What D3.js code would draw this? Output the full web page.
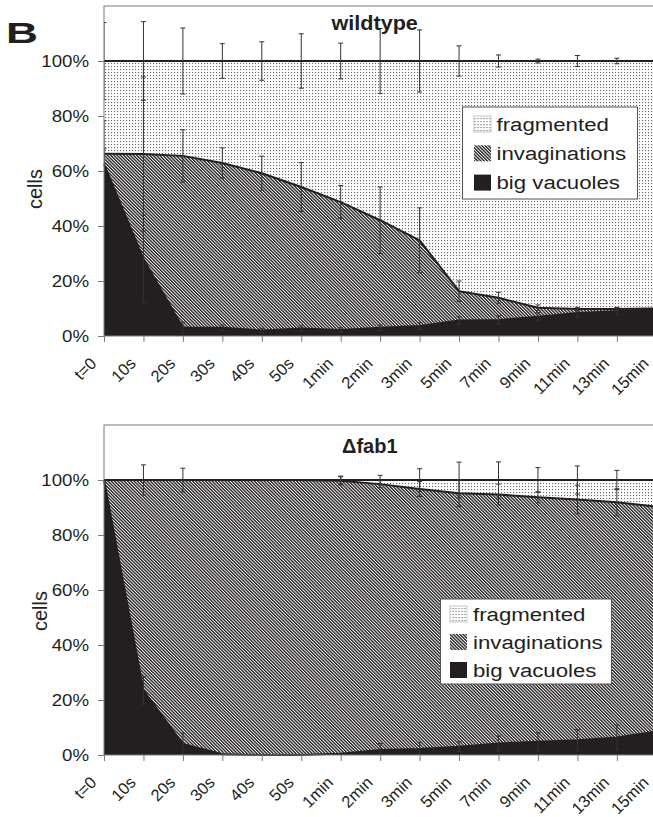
<!DOCTYPE html>
<meta charset="utf-8">
<style>
body { margin: 0; background: #fff; }
svg { display: block; font-family: "Liberation Sans", Arial, sans-serif; }
.frame { fill: none; stroke: #7a7a7a; stroke-width: 1; }
.axis .domain { display: none; }
.axis line { stroke: #7a7a7a; }
.axis text { font-size: 17px; fill: #231f20; font-family: "Liberation Sans", Arial, sans-serif; }
.xaxis text { font-size: 16.5px; }
.edge { fill: none; stroke: #231f20; stroke-width: 2; stroke-linejoin: round; }
.errorbar line { stroke: #333; stroke-width: 1; }
.legend-box { fill: #fff; stroke: #555; stroke-width: 1; }
.legend text { font-size: 19px; fill: #231f20; }
</style>
<body>
<svg width="653" height="817"></svg>
<script src="https://d3js.org/d3.v7.min.js"></script>
<script>

// time points on the category axis
var categories = ["t=0", "10s", "20s", "30s", "40s", "50s", "1min", "2min", "3min", "5min", "7min", "9min", "11min", "13min", "15min"];
var yTicks = [0, 20, 40, 60, 80, 100];
var seriesNames = ["fragmented", "invaginations", "big vacuoles"];

// wildtype, % of cells
var wtBigVacuoles   = [62.5, 28, 3, 3, 2, 2.7, 2.2, 3, 3.6, 5.6, 5.8, 7, 8.4, 9, 9.8];
var wtInvaginations = [3.8, 38.2, 62.5, 59.9, 57.2, 51.5, 46.5, 39.1, 31.2, 10.7, 8.1, 3.3, 1.4, 0.8, 0.2];
var wtFragmented    = [33.7, 33.8, 34.5, 37.1, 40.8, 45.8, 51.3, 57.9, 65.2, 83.7, 86.1, 89.7, 90.2, 90.2, 90];
var wtBigVacuolesErr   = [5.6, 16, 2, 1, 0.8, 1, 0.8, 1, 1.2, 1.4, 1.5, 1.5, 1.5, 1.2, 1];
var wtInvaginationsErr = [12, 28, 9.5, 5.5, 6.2, 8.9, 6, 12.1, 11.8, 3.7, 2, 1, 0.6, 0.6, 0.5];
var wtFragmentedErr    = [14, 14.3, 12, 6.3, 7, 9.9, 6.5, 11.8, 11.3, 5.5, 2.2, 0.7, 2, 1, 0.8];

// delta fab1, % of cells
var fabBigVacuoles   = [100, 23.5, 4, 0.3, 0, 0, 0.5, 1.8, 2.2, 3, 4.2, 4.8, 5.4, 6.4, 8.5];
var fabInvaginations = [0, 76.5, 96, 99.7, 100, 100, 99.2, 96.7, 94.5, 92.2, 90.5, 88.9, 87.5, 85.5, 81.8];
var fabFragmented    = [0, 0, 0, 0, 0, 0, 0.3, 1.5, 3.3, 4.8, 5.3, 6.3, 7.1, 8.1, 9.7];
var fabBigVacuolesErr   = [0, 5, 3.9, 0, 0, 0, 0, 2.4, 2.3, 1.8, 2.7, 3.3, 3.9, 4.5, 5];
var fabInvaginationsErr = [0, 0, 0, 0, 0, 0, 1.5, 1.3, 2.7, 4.9, 3.8, 2, 5.2, 4.9, 4];
var fabFragmentedErr    = [0, 5.5, 4.3, 0, 0, 0, 1.4, 1.7, 4.1, 6.5, 6.6, 4.5, 5.1, 3.5, 3];

var svg = d3.select("svg");
var ink = "#231f20";

var defs = svg.append("defs");
var dots = defs.append("pattern")
    .attr("id", "dots")
    .attr("patternUnits", "userSpaceOnUse")
    .attr("width", 3).attr("height", 3);
dots.append("rect").attr("width", 3).attr("height", 3).attr("fill", "#fff");
dots.append("rect").attr("width", 1.1).attr("height", 1.1).attr("fill", "#666");

var hatch = defs.append("pattern")
    .attr("id", "hatch")
    .attr("patternUnits", "userSpaceOnUse")
    .attr("width", 2.3).attr("height", 4)
    .attr("patternTransform", "rotate(-45)");
hatch.append("rect").attr("width", 2.3).attr("height", 4).attr("fill", "#fff");
hatch.append("rect").attr("width", 1.35).attr("height", 4).attr("fill", ink);

var keys = ["bv", "inv", "frag"];
var fills = { bv: ink, inv: "url(#hatch)", frag: "url(#dots)" };
var legendKeys = ["frag", "inv", "bv"];

var x = d3.scalePoint()
    .domain(categories)
    .range([104, 656.3]);

// big "B" panel letter
svg.append("text")
    .attr("transform", "translate(6,43) scale(1.5,1)")
    .attr("font-size", 29.5)
    .attr("font-weight", "bold")
    .attr("fill", ink)
    .text("B");

function drawPanel(p) {
  var y = d3.scaleLinear().domain([0, 120]).range([p.bottom, p.top]);

  var rows = categories.map(function(c, i) {
    return { cat: c, bv: p.bv[i], inv: p.inv[i], frag: p.frag[i] };
  });
  var errs = { bv: p.bvErr, inv: p.invErr, frag: p.fragErr };
  var layers = d3.stack().keys(keys)(rows);

  var g = svg.append("g");

  var clipId = "clip-" + p.id;
  defs.append("clipPath").attr("id", clipId)
    .append("rect")
      .attr("x", x.range()[0])
      .attr("y", p.top)
      .attr("width", x.range()[1] - x.range()[0])
      .attr("height", p.bottom - p.top);

  var area = d3.area()
      .x(function(d) { return x(d.data.cat); })
      .y0(function(d) { return y(d[0]); })
      .y1(function(d) { return y(d[1]); });

  var line = d3.line()
      .x(function(d) { return x(d.data.cat); })
      .y(function(d) { return y(d[1]); });

  g.selectAll(".layer")
    .data(layers)
    .enter().append("path")
      .attr("class", "layer")
      .attr("fill", function(d) { return fills[d.key]; })
      .attr("d", area);

  g.selectAll(".edge")
    .data(layers)
    .enter().append("path")
      .attr("class", "edge")
      .attr("d", line);

  // error bars, centred on each stacked top
  var bars = g.append("g")
      .attr("class", "errorbar")
      .attr("clip-path", "url(#" + clipId + ")");
  layers.forEach(function(layer) {
    layer.forEach(function(d, i) {
      var e = errs[layer.key][i];
      if (!(e > 0)) return;
      var cx = x(d.data.cat), hi = y(d[1] + e), lo = y(d[1] - e);
      bars.append("line").attr("x1", cx).attr("x2", cx).attr("y1", hi).attr("y2", lo);
      bars.append("line").attr("x1", cx - 2.5).attr("x2", cx + 2.5).attr("y1", hi).attr("y2", hi);
      bars.append("line").attr("x1", cx - 2.5).attr("x2", cx + 2.5).attr("y1", lo).attr("y2", lo);
    });
  });

  g.append("rect")
      .attr("class", "frame")
      .attr("x", x.range()[0])
      .attr("y", p.top)
      .attr("width", x.range()[1] - x.range()[0])
      .attr("height", p.bottom - p.top);

  g.append("g")
      .attr("class", "axis")
      .attr("transform", "translate(" + x.range()[0] + ",0)")
      .call(d3.axisLeft(y).tickValues(yTicks).tickSize(6).tickPadding(9)
        .tickFormat(function(d) { return d + "%"; }))
    .selectAll("text")
      .attr("x", -13.6)
      .attr("transform", "scale(1.1,1)");

  g.append("g")
      .attr("class", "axis xaxis")
      .attr("transform", "translate(0," + p.bottom + ")")
      .call(d3.axisBottom(x).tickSize(6))
    .selectAll("text")
      .attr("y", null)
      .attr("dy", null)
      .attr("text-anchor", "end")
      .attr("transform", "translate(-7,28.5) rotate(-45)");

  g.append("text")
      .attr("transform", "translate(" + p.cellsX + "," + p.cellsY + ") rotate(-90)")
      .attr("text-anchor", "middle")
      .attr("font-size", 20)
      .attr("fill", ink)
      .text("cells");

  g.append("text")
      .attr("transform", "translate(" + p.titleX + "," + p.titleY + ") scale(" + p.titleScale + ",1)")
      .attr("font-size", 20)
      .attr("font-weight", "bold")
      .attr("fill", ink)
      .text(p.title);

  var L = p.legend;
  var legend = g.append("g")
      .attr("class", "legend")
      .attr("transform", "translate(" + L.x + "," + L.y + ")");
  legend.append("rect")
      .attr("class", "legend-box")
      .attr("width", L.w)
      .attr("height", L.h);
  var item = legend.selectAll(".item")
      .data(legendKeys)
    .enter().append("g")
      .attr("class", "item")
      .attr("transform", function(d, i) { return "translate(0," + (L.row0 + i * L.rowH) + ")"; });
  item.append("rect")
      .attr("x", L.sw)
      .attr("y", -8)
      .attr("width", 17)
      .attr("height", 16)
      .attr("fill", function(d) { return fills[d]; })
      .attr("stroke", function(d) { return d == "frag" ? "#bbb" : "none"; })
      .attr("stroke-width", 0.8);
  item.append("text")
      .attr("transform", "translate(" + L.tx + ",6.5) scale(1.17,1)")
      .text(function(d, i) { return seriesNames[i]; });
}

drawPanel({
  id: "wt", top: 6, bottom: 336,
  bv: wtBigVacuoles, inv: wtInvaginations, frag: wtFragmented,
  bvErr: wtBigVacuolesErr, invErr: wtInvaginationsErr, fragErr: wtFragmentedErr,
  title: "wildtype", titleX: 331.5, titleY: 29.5, titleScale: 1.08,
  cellsX: 41.5, cellsY: 189,
  legend: { x: 462.5, y: 107, w: 175, h: 92, row0: 17, rowH: 29.3, sw: 11.5, tx: 34 }
});

drawPanel({
  id: "fab", top: 425, bottom: 755,
  bv: fabBigVacuoles, inv: fabInvaginations, frag: fabFragmented,
  bvErr: fabBigVacuolesErr, invErr: fabInvaginationsErr, fragErr: fabFragmentedErr,
  title: "\u0394fab1", titleX: 342, titleY: 453, titleScale: 1,
  cellsX: 46.5, cellsY: 611,
  legend: { x: 440.5, y: 599, w: 171, h: 85, row0: 15, rowH: 28, sw: 9.5, tx: 32.5 }
});

</script>
</body>
